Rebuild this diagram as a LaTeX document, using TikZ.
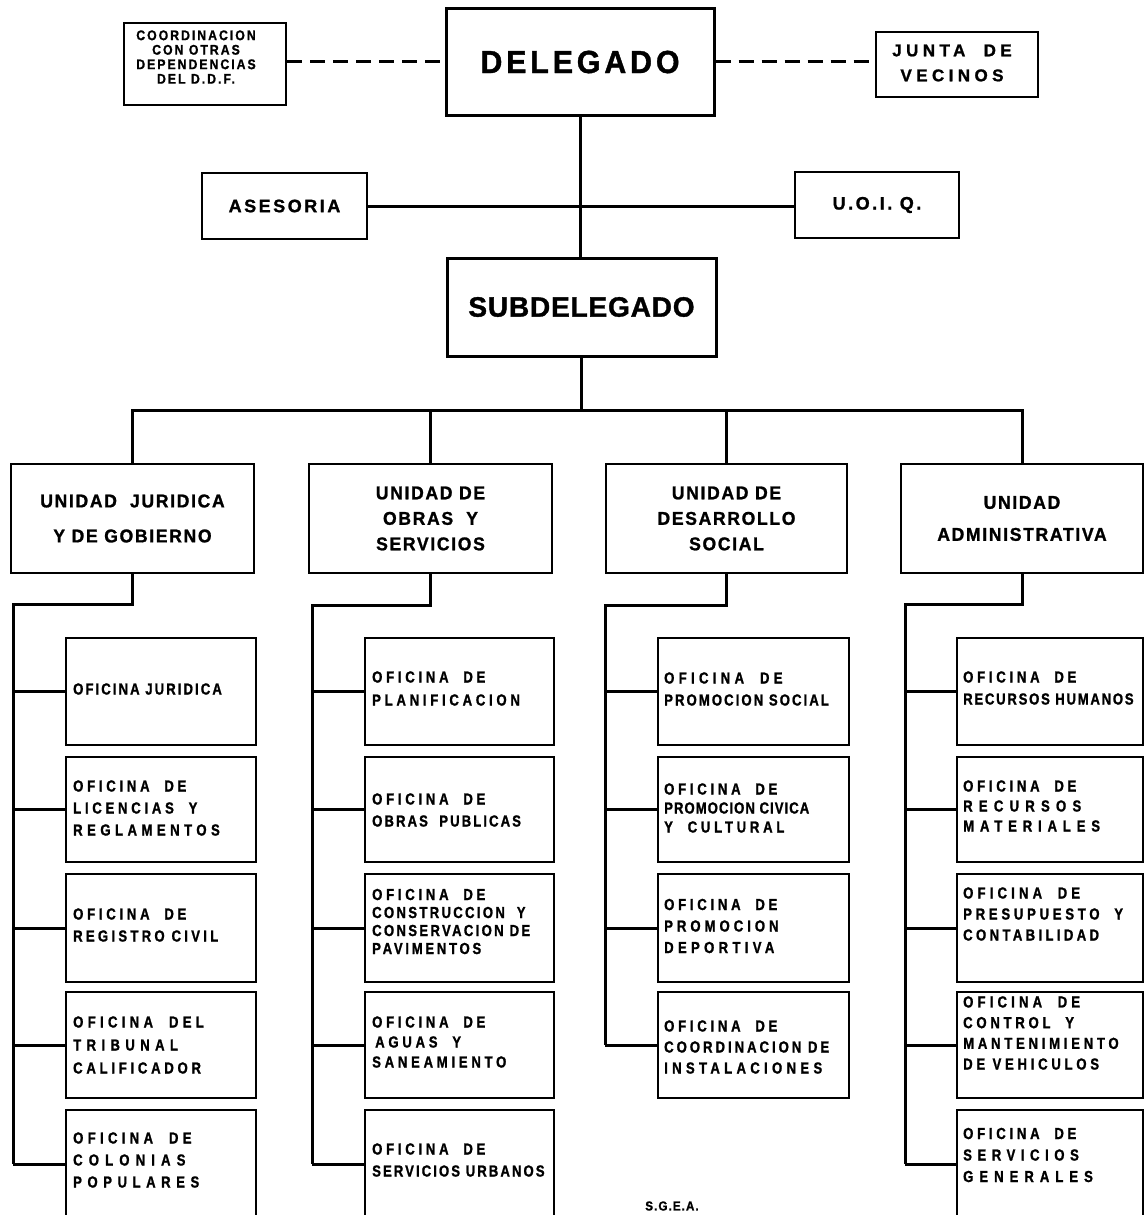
\documentclass[tikz,border=0pt]{standalone}
\usepackage{fontspec}
\setmainfont{Liberation Sans}
\newcommand\LS[2]{{\addfontfeature{LetterSpace=#1}#2}}
\begin{document}
\begin{tikzpicture}[x=1pt,y=-1pt,
  conn/.style={line width=3pt},
  dashconn/.style={line width=3pt, dash pattern=on 15pt off 8pt},
  box/.style 2 args={draw, line width=2pt, inner sep=0pt, minimum width=#1, minimum height=#2, align=center},
  otext/.style={anchor=west, align=left, inner sep=0pt, font={\fontsize{16}{#1}\selectfont\bfseries\addfontfeature{FakeStretch=0.82,FakeBold=1.2,LetterSpace=23.4}}},
  otext/.default=22,
  utext/.style={font={\fontsize{18.5}{#1}\selectfont\bfseries\addfontfeature{FakeStretch=0.95,FakeBold=1.2,LetterSpace=9}}},
]
\useasboundingbox (0,0) rectangle (1144,1215);
\fill[white] (0,0) rectangle (1144,1215);
\clip (0,0) rectangle (1144,1215);

% ---------- top level ----------
\node[box={268}{107}, line width=3pt, font={\fontsize{32}{34}\selectfont\bfseries\addfontfeature{FakeStretch=0.95,FakeBold=1.2,LetterSpace=12}}] (del) at (580,62) {DELEGADO};
\node[box={162}{82}] (coord) at (205,64) {};
\node[align=center, inner sep=0pt, font={\fontsize{14}{14.5}\selectfont\bfseries\addfontfeature{FakeStretch=0.88,FakeBold=1,LetterSpace=14}}] (coordt) at (196,57)
  {COORDINACION\\CON OTRAS\\DEPENDENCIAS\\DEL D.D.F.};
\node[box={162}{65}] (junta) at (957,64.5) {};
\node[align=center, inner sep=0pt, font={\fontsize{17}{25}\selectfont\bfseries\addfontfeature{FakeBold=1.2,LetterSpace=26}}] (juntat) at (952,63)
  {JUNTA~~DE\\VECINOS};
\node[box={165}{66}, font={\fontsize{18}{20}\selectfont\bfseries\addfontfeature{FakeBold=1.2,LetterSpace=14}}] (ase) at (284.5,206) {ASESORIA};
\node[box={164}{66}, font={\fontsize{18}{20}\selectfont\bfseries\addfontfeature{FakeBold=1.2,LetterSpace=14}}] (uoiq) at (877,205) {U.O.I. Q.};
\node[box={269}{98}, line width=3pt, font={\fontsize{28}{30}\selectfont\bfseries\addfontfeature{FakeBold=1.2,LetterSpace=3}}] (sub) at (581.5,307) {SUBDELEGADO};

\draw[dashconn] (del.west -| coord.east) -- (del.west);
\draw[dashconn] (del.east) -- (del.east -| junta.west);
\draw[conn] (del.south) -- (del.south |- sub.north);
\draw[conn] (ase.east) -- (ase.east -| uoiq.west);

% ---------- units ----------
\node[box={243}{109}, utext=35] (u1) at (132.5,518.5) {UNIDAD~~JURIDICA\\Y DE GOBIERNO};
\node[box={243}{109}, utext=25.5] (u2) at (430.5,518.5) {UNIDAD DE\\OBRAS~~Y\\SERVICIOS};
\node[box={241}{109}, utext=25.5] (u3) at (726.5,518.5) {UNIDAD DE\\DESARROLLO\\SOCIAL};
\node[box={242}{109}, utext=32] (u4) at (1022,518.5) {UNIDAD\\ADMINISTRATIVA};

\coordinate (bus) at (580,410);
\draw[conn] (sub.south) -- (sub.south |- bus);
\draw[conn] (u1.north) |- (bus) -| (u4.north);
\draw[conn] (u2.north) -- (u2.north |- bus);
\draw[conn] (u3.north) -- (u3.north |- bus);

% ---------- column 1 ----------
\node[box={190}{107}] (a1) at (161,691.5) {};
\node[box={190}{105}] (a2) at (161,809.5) {};
\node[box={190}{108}] (a3) at (161,928) {};
\node[box={190}{106}] (a4) at (161,1045) {};
\node[box={190}{108}] (a5) at (161,1164) {};
\node[otext] (a1t) at (73,689) {\LS{13}{OFICINA JURIDICA}};
\node[otext] (a2t) at (73,808) {OFICINA~~DE\\LICENCIAS~~Y\\\LS{28}{REGLAMENTOS}};
\node[otext] (a3t) at (73,925) {OFICINA~~DE\\\LS{20.5}{REGISTRO CIVIL}};
\node[otext=23] (a4t) at (73,1045) {\LS{27}{OFICINA~~DEL}\\\LS{33.7}{TRIBUNAL}\\CALIFICADOR};
\node[otext] (a5t) at (73,1160) {\LS{27}{OFICINA~~DE}\\\LS{38.4}{COLONIAS}\\\LS{34.7}{POPULARES}};
\coordinate (s1) at (13,604);
\draw[conn] (u1.south) |- (s1) -- (s1 |- a5.west);
\foreach \n in {a1,a2,a3,a4,a5} \draw[conn] (s1 |- \n.west) -- (\n.west);

% ---------- column 2 ----------
\node[box={189}{107}] (b1) at (459.5,691.5) {};
\node[box={189}{105}] (b2) at (459.5,809.5) {};
\node[box={189}{108}] (b3) at (459.5,928) {};
\node[box={189}{106}] (b4) at (459.5,1045) {};
\node[box={189}{108}] (b5) at (459.5,1164) {};
\node[otext=23] (b1t) at (372,688.5) {OFICINA~~DE\\PLANIFICACION};
\node[otext] (b2t) at (372,810) {OFICINA~~DE\\\LS{13}{OBRAS~~PUBLICAS}};
\node[otext=18] (b3t) at (372,921.5) {OFICINA~~DE\\\LS{14.5}{CONSTRUCCION~~Y}\\\LS{14.5}{CONSERVACION DE}\\\LS{17}{PAVIMENTOS}};
\node[otext=20] (b4t) at (372,1042) {OFICINA~~DE\\\hspace*{3pt}AGUAS~~Y\\SANEAMIENTO};
\node[otext] (b5t) at (372,1160) {OFICINA~~DE\\\LS{13}{SERVICIOS URBANOS}};
\coordinate (s2) at (312,605);
\draw[conn] (u2.south) |- (s2) -- (s2 |- b5.west);
\foreach \n in {b1,b2,b3,b4,b5} \draw[conn] (s2 |- \n.west) -- (\n.west);

% ---------- column 3 ----------
\node[box={191}{107}] (c1) at (753.5,691.5) {};
\node[box={191}{105}] (c2) at (753.5,809.5) {};
\node[box={191}{108}] (c3) at (753.5,928) {};
\node[box={191}{106}] (c4) at (753.5,1045) {};
\node[otext] (c1t) at (664,689) {\LS{27}{OFICINA~~DE}\\\LS{13}{PROMOCION SOCIAL}};
\node[otext=19] (c2t) at (664,808) {OFICINA~~DE\\\LS{6.5}{PROMOCION CIVICA}\\Y~~CULTURAL};
\node[otext=21.5] (c3t) at (664,926) {OFICINA~~DE\\\LS{25}{PROMOCION}\\\LS{27}{DEPORTIVA}};
\node[otext=21] (c4t) at (664,1047) {OFICINA~~DE\\\LS{18.7}{COORDINACION DE}\\\LS{27}{INSTALACIONES}};
\coordinate (s3) at (605,605);
\draw[conn] (u3.south) |- (s3) -- (s3 |- c4.west);
\foreach \n in {c1,c2,c3,c4} \draw[conn] (s3 |- \n.west) -- (\n.west);

% ---------- column 4 ----------
\node[box={186}{107}] (d1) at (1050,691.5) {};
\node[box={186}{105}] (d2) at (1050,809.5) {};
\node[box={186}{108}] (d3) at (1050,928) {};
\node[box={186}{106}] (d4) at (1050,1045) {};
\node[box={186}{108}] (d5) at (1050,1164) {};
\node[otext] (d1t) at (963,688) {OFICINA~~DE\\\LS{11}{RECURSOS HUMANOS}};
\node[otext=20] (d2t) at (963,806) {OFICINA~~DE\\\LS{39}{RECURSOS}\\\LS{36.5}{MATERIALES}};
\node[otext=21] (d3t) at (963,914) {\LS{26}{OFICINA~~DE}\\PRESUPUESTO~~Y\\\LS{21}{CONTABILIDAD}};
\node[otext=20.7] (d4t) at (963,1033) {\LS{26}{OFICINA~~DE}\\CONTROL~~Y\\MANTENIMIENTO\\DE VEHICULOS};
\node[otext=21.5] (d5t) at (963,1155) {OFICINA~~DE\\\LS{34.7}{SERVICIOS}\\\LS{37.5}{GENERALES}};
\coordinate (s4) at (905,604);
\draw[conn] (u4.south) |- (s4) -- (s4 |- d5.west);
\foreach \n in {d1,d2,d3,d4,d5} \draw[conn] (s4 |- \n.west) -- (\n.west);

\node[font={\fontsize{13}{14}\selectfont\bfseries\addfontfeature{FakeStretch=0.9,FakeBold=1,LetterSpace=8}}] (sgea) at (672,1206) {S.G.E.A.};
\end{tikzpicture}
\end{document}
